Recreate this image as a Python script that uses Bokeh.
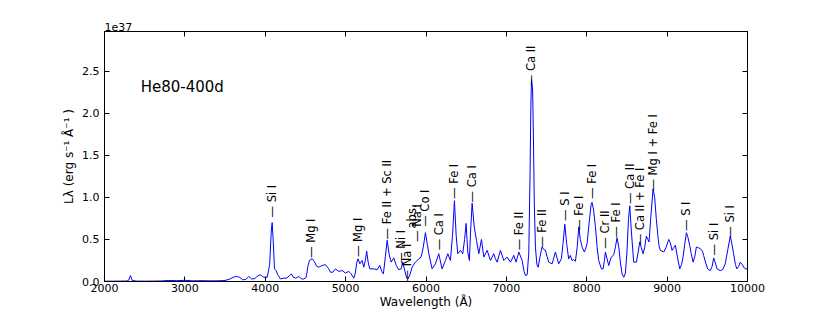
from math import pi
from bokeh.plotting import figure
from bokeh.models import ColumnDataSource, Label, LinearAxis, FixedTicker, NumeralTickFormatter, Range1d
from bokeh.embed import file_html
from bokeh.resources import INLINE
from bokeh.core.properties import value

# ---- data (luminosity in units of 1e37 erg s^-1 A^-1) ----
wavelength = [
    2000, 2100, 2200, 2280, 2300, 2323, 2345, 2400, 2500, 2600, 2700, 2800, 2900, 3000,
    3100, 3200, 3300, 3400, 3500, 3560, 3600, 3640, 3680, 3720, 3760, 3795, 3830, 3870,
    3910, 3940, 3980, 4024, 4055, 4075, 4086, 4098, 4115, 4135, 4155, 4190, 4230, 4270,
    4300, 4326, 4350, 4380, 4420, 4450, 4480, 4510, 4530, 4550, 4584, 4610, 4640, 4665,
    4708, 4750, 4790, 4812, 4840, 4873, 4915, 4957, 4998, 5040, 5069, 5102, 5120, 5140,
    5155, 5177, 5205, 5226, 5245, 5262, 5280, 5300, 5350, 5392, 5425, 5450, 5470, 5495,
    5517, 5540, 5566, 5600, 5630, 5661, 5690, 5711, 5735, 5760, 5775, 5800, 5827, 5869,
    5910, 5939, 5965, 5993, 6015, 6035, 6076, 6117, 6159, 6200, 6242, 6271, 6304, 6330,
    6354, 6375, 6395, 6428, 6457, 6480, 6499, 6520, 6540, 6555, 6574, 6600, 6628, 6657,
    6690, 6719, 6761, 6802, 6843, 6864, 6885, 6926, 6968, 7009, 7051, 7092, 7121, 7155,
    7196, 7220, 7238, 7259, 7279, 7295, 7305, 7313, 7320, 7326, 7335, 7348, 7362, 7380,
    7395, 7420, 7444, 7465, 7486, 7505, 7527, 7569, 7610, 7651, 7684, 7705, 7727, 7750,
    7775, 7796, 7817, 7838, 7859, 7880, 7901, 7920, 7945, 7970, 7990, 8004, 8030, 8055,
    8066, 8085, 8108, 8130, 8149, 8182, 8203, 8220, 8232, 8250, 8274, 8300, 8336, 8355,
    8377, 8400, 8419, 8440, 8460, 8481, 8500, 8520, 8535, 8555, 8584, 8618, 8640, 8659,
    8680, 8701, 8720, 8742, 8760, 8775, 8800, 8825, 8845, 8865, 8883, 8900, 8916, 8958,
    8985, 9020, 9040, 9061, 9080, 9103, 9130, 9157, 9180, 9198, 9220, 9240, 9260, 9281,
    9300, 9323, 9345, 9364, 9390, 9413, 9440, 9454, 9480, 9504, 9537, 9560, 9579, 9600,
    9620, 9661, 9690, 9723, 9755, 9786, 9805, 9827, 9850, 9868, 9890, 9910, 9935, 9960,
    9980, 10000,
]
luminosity = [
    0.004, 0.004, 0.005, 0.006, 0.015, 0.07, 0.012, 0.005, 0.004, 0.005, 0.006, 0.012, 0.010, 0.014,
    0.008, 0.010, 0.008, 0.008, 0.012, 0.03, 0.05, 0.06, 0.05, 0.02, 0.025, 0.06, 0.03, 0.035,
    0.07, 0.08, 0.05, 0.05, 0.20, 0.60, 0.70, 0.50, 0.15, 0.13, 0.08, 0.03, 0.04, 0.04,
    0.07, 0.09, 0.05, 0.04, 0.06, 0.03, 0.03, 0.05, 0.18, 0.25, 0.27, 0.24, 0.18, 0.17,
    0.19, 0.20, 0.15, 0.11, 0.11, 0.15, 0.12, 0.13, 0.10, 0.12, 0.09, 0.04, 0.10, 0.23,
    0.27, 0.21, 0.25, 0.17, 0.25, 0.36, 0.23, 0.15, 0.15, 0.14, 0.19, 0.12, 0.09, 0.30,
    0.49, 0.33, 0.23, 0.28, 0.19, 0.14, 0.15, 0.23, 0.13, 0.04, 0.03, 0.08, 0.17, 0.23,
    0.27, 0.29, 0.40, 0.58, 0.45, 0.33, 0.15, 0.21, 0.33, 0.15, 0.25, 0.33, 0.25, 0.55,
    0.96, 0.55, 0.33, 0.37, 0.33, 0.50, 0.69, 0.35, 0.25, 0.60, 0.93, 0.65, 0.49, 0.33,
    0.50, 0.29, 0.37, 0.25, 0.33, 0.27, 0.23, 0.37, 0.25, 0.29, 0.23, 0.31, 0.23, 0.35,
    0.25, 0.12, 0.07, 0.08, 0.35, 1.30, 2.10, 2.40, 2.33, 2.30, 1.80, 0.90, 0.40, 0.20,
    0.17, 0.30, 0.41, 0.38, 0.37, 0.30, 0.23, 0.21, 0.35, 0.21, 0.27, 0.45, 0.68, 0.45,
    0.27, 0.31, 0.25, 0.26, 0.24, 0.40, 0.65, 0.50, 0.40, 0.35, 0.40, 0.45, 0.70, 0.92,
    0.94, 0.85, 0.65, 0.40, 0.25, 0.15, 0.15, 0.25, 0.35, 0.28, 0.19, 0.28, 0.32, 0.40,
    0.52, 0.40, 0.22, 0.09, 0.05, 0.10, 0.35, 0.75, 0.90, 0.60, 0.23, 0.23, 0.35, 0.47,
    0.40, 0.33, 0.40, 0.54, 0.50, 0.47, 0.80, 1.10, 1.00, 0.75, 0.56, 0.42, 0.37, 0.35,
    0.40, 0.50, 0.46, 0.37, 0.40, 0.43, 0.28, 0.15, 0.20, 0.29, 0.45, 0.58, 0.52, 0.43,
    0.33, 0.23, 0.30, 0.41, 0.40, 0.39, 0.36, 0.31, 0.22, 0.15, 0.13, 0.18, 0.28, 0.22,
    0.15, 0.13, 0.14, 0.21, 0.38, 0.54, 0.45, 0.33, 0.20, 0.15, 0.18, 0.23, 0.20, 0.16,
    0.15, 0.15,
]

# line identifications: label text, wavelength, height where the label starts
line_labels = [
    "— Si I", "— Mg I", "— Mg I", "— Fe II + Sc II", "— Ni I", "— Na I", "abs.", "— Na I",
    "— Co I", "— Ca I", "— Fe I", "— Ca I", "— Fe II", "— Ca II", "— Fe II", "— S I",
    "— Fe I", "— Fe I", "— Cr II", "— Fe I", "— Ca II", "— Ca II + Fe I", "— Mg I + Fe I",
    "— S I", "— Si I", "— Si I",
]
line_wavelength = [
    4086, 4571, 5156, 5520, 5690, 5760, 5820, 5890,
    5993, 6160, 6354, 6574, 7155, 7312, 7449, 7727,
    7901, 8060, 8232, 8370, 8535, 8660, 8825,
    9240, 9579, 9786,
]
line_label_y = [
    0.76, 0.28, 0.29, 0.50, 0.21, 0.0, 0.63, 0.47,
    0.65, 0.37, 0.98, 0.94, 0.37, 2.32, 0.40, 0.72,
    0.60, 0.98, 0.39, 0.52, 0.92, 0.43, 1.08,
    0.60, 0.31, 0.52,
]

x_ticks = [2000, 3000, 4000, 5000, 6000, 7000, 8000, 9000, 10000]
y_ticks = [0.0, 0.5, 1.0, 1.5, 2.0, 2.5]
model_name = "He80-400d"
scale_text = "1e37"

FONT = "DejaVu Sans"

p = figure(width=830, height=312, output_backend="svg", toolbar_location=None,
           x_range=Range1d(2000, 10000), y_range=Range1d(0, 2.97),
           min_border_left=104, min_border_right=83, min_border_top=31, min_border_bottom=31,
           title=scale_text)
p.background_fill_color = "white"
p.border_fill_color = "white"
p.outline_line_color = "black"
p.grid.visible = False

p.title.align = "left"
p.title.text_font = FONT
p.title.text_font_size = "11px"
p.title.text_font_style = "normal"
p.title.text_color = "black"
p.title.standoff = 1
p.title.offset = 0

# spectrum
p.line(wavelength, luminosity, line_color="#0000ff", line_width=1)

# line identifications
src = ColumnDataSource(dict(x=line_wavelength, y=line_label_y, text=line_labels))
p.text(x="x", y="y", text="text", source=src, angle=pi / 2, text_align="left",
       text_baseline="middle", text_font=value(FONT), text_font_size="11.5px",
       text_color="black")

# axes
p.xaxis.ticker = FixedTicker(ticks=x_ticks)
p.yaxis.ticker = FixedTicker(ticks=y_ticks)
p.xaxis.formatter = NumeralTickFormatter(format="0")
p.yaxis.formatter = NumeralTickFormatter(format="0.0")
for ax in [p.xaxis[0], p.yaxis[0]]:
    ax.major_tick_in = 5
    ax.major_tick_out = 0
    ax.minor_tick_in = 0
    ax.minor_tick_out = 0
    ax.axis_line_color = "black"
    ax.major_tick_line_color = "black"
    ax.major_label_text_color = "black"
    ax.major_label_text_font = FONT
    ax.major_label_text_font_size = "11px"
    ax.axis_label_text_font = FONT
    ax.axis_label_text_font_size = "12px"
    ax.axis_label_text_font_style = "normal"
    ax.axis_label_text_color = "black"
p.xaxis.major_label_standoff = 2
p.yaxis.major_label_standoff = 5
p.xaxis.axis_label = "Wavelength (Å)"
p.xaxis.axis_label_standoff = 0
p.yaxis.axis_label = "Lλ (erg s⁻¹ Å⁻¹ )"
p.yaxis.axis_label_standoff = 3

# mirrored ticks on top and right
top = LinearAxis(ticker=FixedTicker(ticks=x_ticks), major_label_text_font_size="0px",
                 major_tick_in=5, major_tick_out=0, minor_tick_in=0, minor_tick_out=0,
                 major_label_standoff=0, axis_line_color="black", major_tick_line_color="black")
right = LinearAxis(ticker=FixedTicker(ticks=y_ticks), major_label_text_font_size="0px",
                   major_tick_in=5, major_tick_out=0, minor_tick_in=0, minor_tick_out=0,
                   major_label_standoff=0, axis_line_color="black", major_tick_line_color="black")
p.add_layout(top, "above")
p.add_layout(right, "right")

# model name
p.add_layout(Label(x=2450, y=2.31, text=model_name, text_align="left",
                   text_baseline="middle", text_font=FONT, text_font_size="15px",
                   text_color="black"))

open("out.html", "w").write(file_html(p, INLINE, title="He80-400d"))
